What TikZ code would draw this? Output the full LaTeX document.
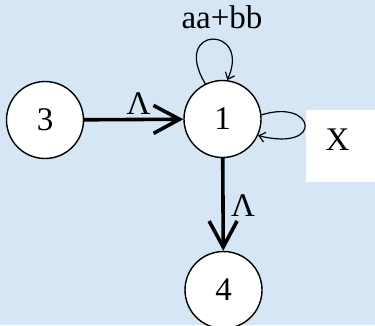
\documentclass[tikz,border=0pt]{standalone}
\usepackage{fontspec}
\setmainfont{Liberation Serif}
\newfontfamily\tnr{Liberation Serif}
\usetikzlibrary{arrows.meta}
\definecolor{bgblue}{RGB}{214,230,245}
\tikzset{
  state/.style={circle,draw=black,fill=white,line width=1.4pt,minimum size=77pt,inner sep=0pt,font=\tnr\fontsize{33}{40}\selectfont},
  lbl/.style={anchor=base,inner sep=0pt,font=\tnr\fontsize{33}{40}\selectfont},
  bigarrow/.style={line width=3.6pt,-{Straight Barb[length=26pt,width=28pt]}},
  loopedge/.style={line width=1.2pt,-{Straight Barb[length=6pt,width=10pt]}}
}
\begin{document}
\begin{tikzpicture}[x=1pt,y=-1pt]
\fill[bgblue] (0,0) rectangle (375,325);
\useasboundingbox (0,0) rectangle (375,325);
\fill[white] (306,110) rectangle (375,182);
\node[state] (n3) at (45,120) {3};
\node[state] (n1) at (222.5,119) {1};
\node[state] (n4) at (223.5,290) {4};
\draw[bigarrow] (n3) -- (n1);
\draw[bigarrow] (n1) -- (n4);
\draw[loopedge] (n1.116) .. controls (170,25) and (252,25) .. (n1.83);
\draw[loopedge] (n1.6) .. controls (315,98) and (325,152) .. (n1.-25);
\node[lbl] (l31) at (138.5,114) {Λ};
\node[lbl] (l14) at (243,216) {Λ};
\node[lbl] (ltop) at (222,28) {aa+bb};
\node[lbl] (lx) at (337.5,150) {X};
\end{tikzpicture}
\end{document}
